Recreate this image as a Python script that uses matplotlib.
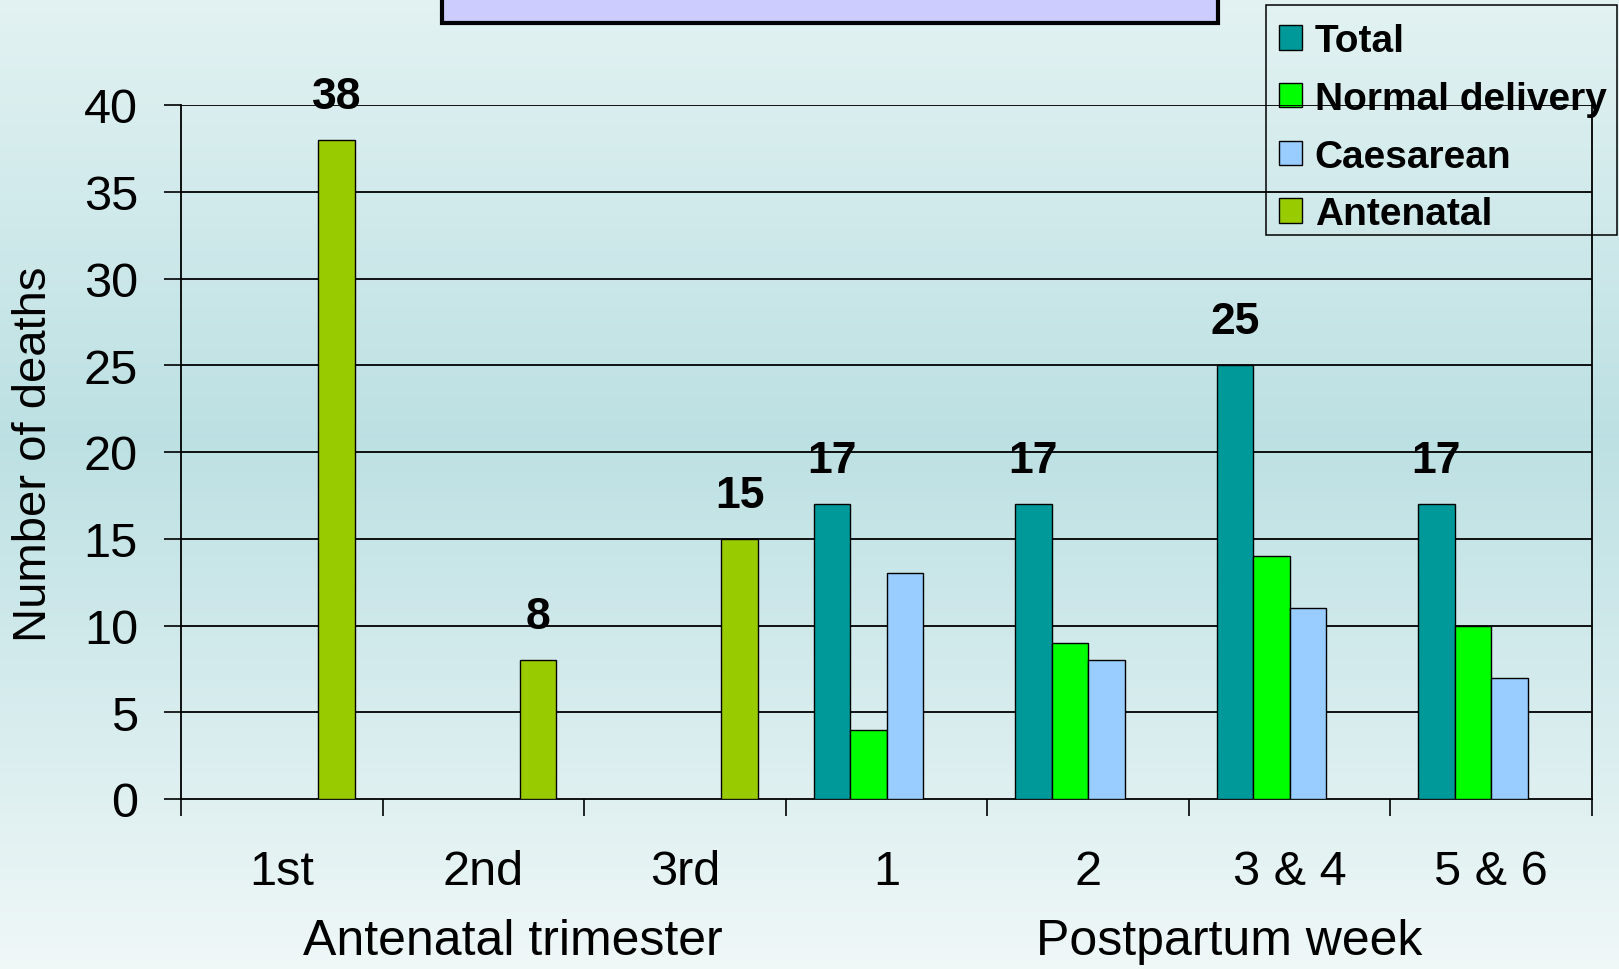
import numpy as np
import matplotlib
matplotlib.use("Agg")
import matplotlib.pyplot as plt
from matplotlib.patches import Rectangle

plt.rcParams["font.family"] = ["Liberation Sans", "DejaVu Sans"]

categories = ["1st", "2nd", "3rd", "1", "2", "3 & 4", "5 & 6"]
series_names = ["Total", "Normal delivery", "Caesarean", "Antenatal"]
total = [np.nan, np.nan, np.nan, 17, 17, 25, 17]
normal = [np.nan, np.nan, np.nan, 4, 9, 14, 10]
caesarean = [np.nan, np.nan, np.nan, 13, 8, 11, 7]
antenatal = [38, 8, 15, np.nan, np.nan, np.nan, np.nan]
colors = ["#009999", "#00ff00", "#99ccff", "#99cc00"]
y_ticks = [0, 5, 10, 15, 20, 25, 30, 35, 40]

W, H = 1619, 970
fig = plt.figure(figsize=(W / 100, H / 100), dpi=100)

# gradient background over the whole figure
bg = fig.add_axes([0, 0, 1, 1], zorder=-10)
stops = np.array([[0.89, 0.95, 0.95], [0.74, 0.88, 0.89], [0.94, 0.97, 0.97]])
t = np.linspace(0, 1, 400)
grad = np.stack([np.interp(t, [0, 0.45, 1], stops[:, c]) for c in range(3)], axis=1)
bg.imshow(grad[:, None, :], aspect="auto", extent=[0, 1, 0, 1], origin="upper")
bg.set_axis_off()

# title box cut off at the top
fig.patches.append(Rectangle((442 / W, 1 - 24 / H), (1218 - 442) / W, 0.05,
                             transform=fig.transFigure, facecolor="#ccccff",
                             edgecolor="black", linewidth=3, zorder=1))

ax = fig.add_axes([181 / W, 1 - 800 / H, (1592 - 181) / W, (800 - 106) / H])
ax.set_facecolor("none")

x = np.arange(len(categories))
w = 0.181
data = [total, normal, caesarean, antenatal]
bars = []
for i, (vals, name, col) in enumerate(zip(data, series_names, colors)):
    b = ax.bar(x + (i - 1.5) * w, vals, w, color=col, edgecolor="black",
               linewidth=1.0, label=name, zorder=3)
    bars.append(b)

lab_font = dict(fontsize=32, fontweight="bold")
ax.bar_label(bars[0], labels=["" if np.isnan(v) else f"{v:g}" for v in total],
             padding=16.5, **lab_font)
ax.bar_label(bars[3], labels=["" if np.isnan(v) else f"{v:g}" for v in antenatal],
             padding=16.5, **lab_font)

ax.set_xlim(-0.5, len(categories) - 0.5)
ax.set_ylim(0, 40)
ax.set_yticks(y_ticks)
ax.tick_params(axis="y", labelsize=35, length=12, width=1.2, pad=19, direction="out")
for yv in y_ticks[1:]:
    ax.axhline(yv, color="black", linewidth=1.3, zorder=2)

ax.set_xticks(np.arange(len(categories) + 1) - 0.5)
ax.set_xticklabels([])
ax.set_xticks(x, minor=True)
ax.set_xticklabels(categories, minor=True)
ax.tick_params(axis="x", which="major", length=12, width=1.2, direction="out")
ax.tick_params(axis="x", which="minor", length=0, labelsize=35, pad=36)

for side in ["left", "bottom", "right"]:
    ax.spines[side].set_linewidth(1.3)
ax.spines["top"].set_visible(False)

fig.text(0.021, 1 - 454 / H, "Number of deaths", rotation=90, fontsize=34,
         ha="center", va="center")
fig.text(513 / W, 1 - 942 / H, "Antenatal trimester", fontsize=36,
         ha="center", va="center")
fig.text(1229 / W, 1 - 942 / H, "Postpartum week", fontsize=36,
         ha="center", va="center")

# legend sits behind the plot area, frame drawn separately
fig.patches.append(Rectangle((1266 / W, 1 - 236 / H), (1617 - 1266) / W, (236 - 6) / H,
                             transform=fig.transFigure, facecolor="none",
                             edgecolor="black", linewidth=1.1, zorder=-1))
leg = fig.legend(loc="upper left", bbox_to_anchor=(1279 / W, 1 - 24 / H),
                 prop=dict(size=28, weight="bold"), frameon=False,
                 handlelength=0.6, handleheight=0.6, handletextpad=0.32,
                 borderpad=0, labelspacing=0.56, borderaxespad=0)
leg.set_zorder(-1)

fig.savefig("out.png", dpi=100)
